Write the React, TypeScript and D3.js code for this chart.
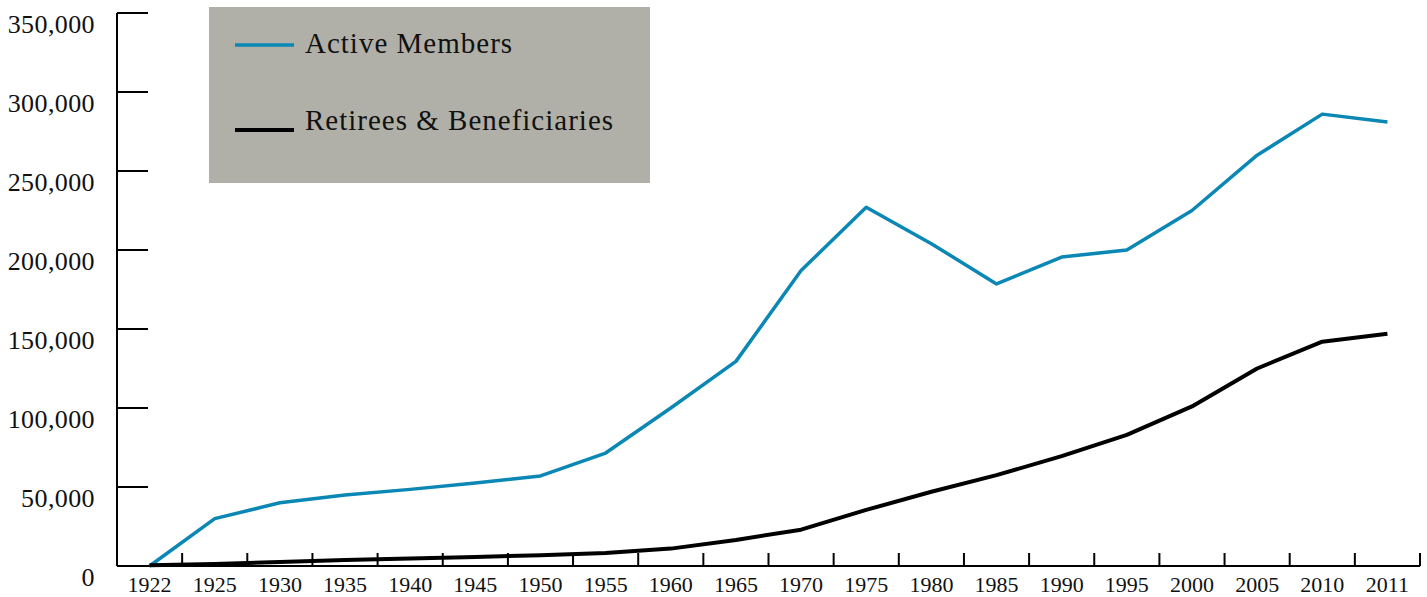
import React from 'react';
import * as d3 from 'd3';

const years = ['1922','1925','1930','1935','1940','1945','1950','1955','1960','1965','1970','1975','1980','1985','1990','1995','2000','2005','2010','2011'];
const activeMembers = [0,30000,40000,45000,48500,52500,57000,71500,100000,129500,187000,227000,204000,178500,195500,200000,225000,260000,286000,281000];
const retirees = [500,1300,2500,3800,4800,5700,6800,8200,11000,16500,23000,35500,47000,57500,69500,83000,101000,125000,142000,147000];
const yTicks = [0,50000,100000,150000,200000,250000,300000,350000];

const series = [
  { name: 'Active Members', values: activeMembers, color: '#0a87b5', width: 3.5 },
  { name: 'Retirees & Beneficiaries', values: retirees, color: '#000000', width: 4 },
];

export default function App() {
  const width = 1427, height = 597;
  const left = 117, right = 1420, top = 13, bottom = 566;

  const x = d3.scaleBand<string>().domain(years).range([left, right]).padding(0);
  const y = d3.scaleLinear().domain([0, 350000]).range([bottom, top]);
  const cx = (d: string) => (x(d) as number) + x.bandwidth() / 2;

  const line = d3.line<number>()
    .x((_, i) => cx(years[i]))
    .y(d => y(d));

  const fmt = d3.format(',');
  const font = '"Liberation Serif", "DejaVu Serif", serif';
  const legendLineY = [45, 130];
  const legendTextY = [53, 130];

  return (
    <svg width={width} height={height} style={{ position: 'absolute', left: 0, top: 0 }}
         fontFamily={font}>
      <rect x={0} y={0} width={width} height={height} fill="#fff" />
      <rect x={209} y={7} width={441} height={176} fill="#b0b0a8" />
      {series.map((s, i) => (
        <g key={s.name}>
          <line x1={235} x2={294} y1={legendLineY[i]} y2={legendLineY[i]} stroke={s.color} strokeWidth={s.width} />
          <text x={305} y={legendTextY[i]} fontSize={29} letterSpacing={1} fill="#111">{s.name}</text>
        </g>
      ))}

      {/* y axis */}
      <line x1={left} x2={left} y1={top} y2={bottom} stroke="#000" strokeWidth={2} />
      {yTicks.map(t => (
        <g key={t}>
          {t > 0 && <line x1={left} x2={148} y1={y(t)} y2={y(t)} stroke="#000" strokeWidth={2} />}
          <text x={95} y={y(t) + 20} textAnchor="end" fontSize={26} letterSpacing={0.4} fill="#111">{fmt(t)}</text>
        </g>
      ))}

      {/* x axis */}
      <line x1={left} x2={right} y1={bottom} y2={bottom} stroke="#000" strokeWidth={2} />
      {years.map(yr => (
        <g key={yr}>
          <line x1={(x(yr) as number) + x.bandwidth()} x2={(x(yr) as number) + x.bandwidth()}
                y1={bottom} y2={bottom - 13} stroke="#000" strokeWidth={2} />
          <text x={cx(yr)} y={592} textAnchor="middle" fontSize={22} fill="#111">{yr}</text>
        </g>
      ))}

      {series.map(s => (
        <path key={s.name} d={line(s.values) as string} fill="none" stroke={s.color}
              strokeWidth={s.width} strokeLinejoin="round" />
      ))}
    </svg>
  );
}
